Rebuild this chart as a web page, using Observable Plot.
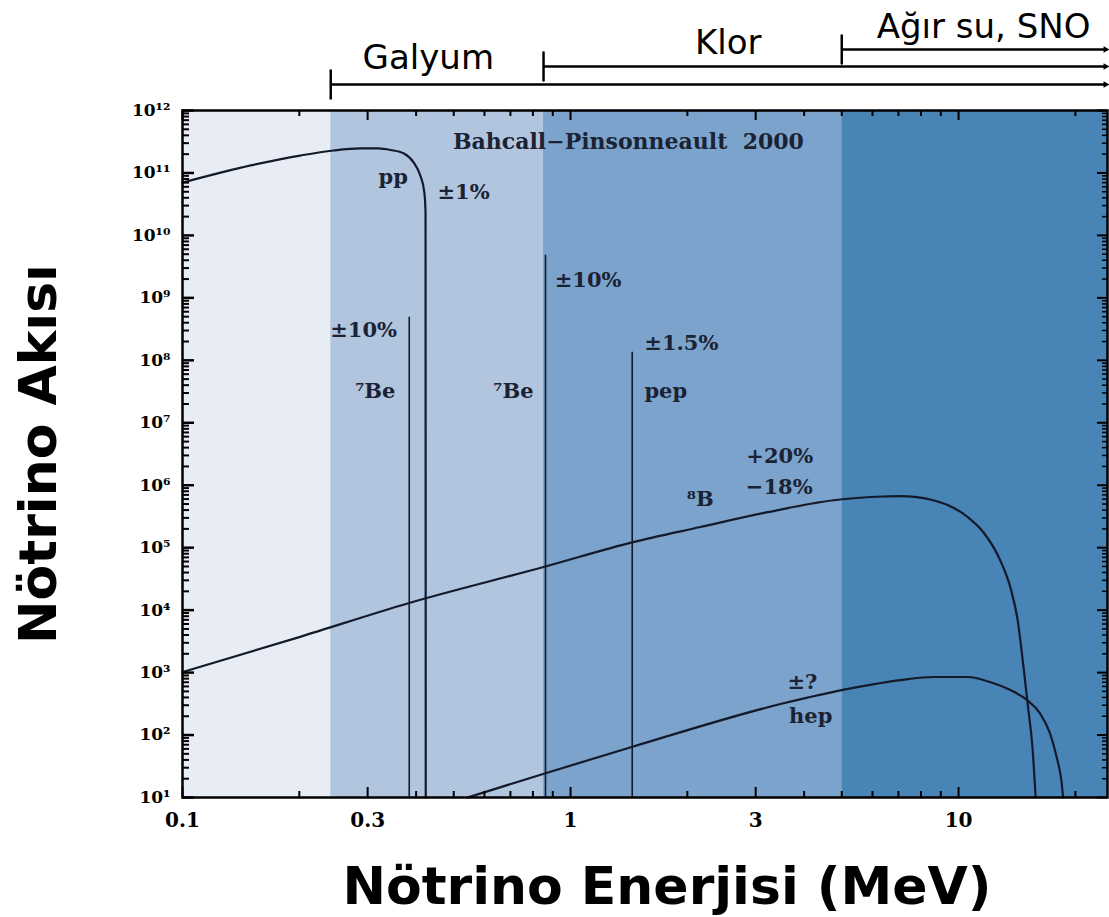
<!DOCTYPE html>
<html><head><meta charset="utf-8">
<script src="https://cdn.jsdelivr.net/npm/d3@7"></script>
<script src="https://cdn.jsdelivr.net/npm/@observablehq/plot@0.6"></script>
<style>body{margin:0;background:#fff}</style>
</head><body><div id="chart"></div>
<script>
// Detector sensitivity bands (MeV)
const bandStart = [0.1, 0.241, 0.852, 5.0];
const bandEnd = [0.241, 0.852, 5.0, 24.2];
const bandFill = ["#e8ecf4", "#b1c5de", "#7ba3cb", "#4884b6"];

const detectorNames = ["Galyum", "Klor", "Ağır su, SNO"];
const detectorThreshold = [0.241, 0.852, 5.0];
const detectorLabelEnergy = [0.43, 2.55, 11.6];
const energyMax = 24.2;

// Continuous spectra
const ppEnergy = [0.1, 0.15, 0.201, 0.245, 0.288, 0.32, 0.344, 0.372, 0.394, 0.41, 0.42, 0.423, 0.4235];
const ppFlux = [7.0e10, 1.32e11, 1.9e11, 2.29e11, 2.47e11, 2.47e11, 2.33e11, 2.05e11, 1.48e11, 9.1e10, 4.9e10, 2.3e10, 10];

const b8Energy = [0.1, 0.2, 0.382, 0.852, 1.45, 2.16, 3.22, 4.76, 6.41, 7.08, 8.61, 10.55, 11.6, 12.8, 13.6, 14.2, 14.7, 15.1, 15.5, 15.8];
const b8Flux = [1.02e3, 3.7e3, 1.29e4, 4.9e4, 1.23e5, 2.14e5, 3.7e5, 5.75e5, 6.6e5, 6.7e5, 5.75e5, 3.1e5, 1.75e5, 6.3e4, 2.3e4, 6.9e3, 1.23e3, 282, 65, 10];

const hepEnergy = [0.543, 0.862, 1.445, 3.54, 5.27, 7.08, 8.61, 10.55, 12.1, 13.6, 15.0, 16.2, 17.2, 17.9, 18.4, 18.6];
const hepFlux = [10, 24.5, 65, 323, 560, 760, 850, 850, 700, 525, 365, 224, 107, 44, 19, 10];

// Monochromatic lines
const lineNames = ["⁷Be", "⁷Be", "pep"];
const lineEnergy = [0.384, 0.862, 1.442];
const lineFlux = [4.9e8, 4.8e9, 1.35e8];

// Annotations
const annText = ["pp", "±1%", "Bahcall−Pinsonneault  2000", "±10%", "⁷Be", "⁷Be", "±10%", "±1.5%", "pep", "⁸B", "+20%", "−18%", "±?", "hep"];
const annEnergy = [0.349, 0.53, 1.41, 0.293, 0.314, 0.713, 1.11, 1.93, 1.76, 2.16, 3.46, 3.45, 3.96, 4.16];
const annFlux = [8.5e10, 4.9e10, 3.1e11, 3.0e8, 3.2e7, 3.2e7, 1.9e9, 1.86e8, 3.2e7, 6.0e5, 2.9e6, 9.3e5, 710, 200];

// Ticks
const xMajorTicks = [0.1, 0.3, 1, 3, 10];
const xMinorTicks = [0.2, 0.4, 0.5, 0.6, 0.7, 0.8, 0.9, 2, 4, 5, 6, 7, 8, 9, 20];
const yMajorTicks = [1e1, 1e2, 1e3, 1e4, 1e5, 1e6, 1e7, 1e8, 1e9, 1e10, 1e11, 1e12];
const yMinorTicks = yMajorTicks.slice(0, -1).flatMap(d => [2,3,4,5,6,7,8,9].map(k => k * d));

const sup = "⁰¹²³⁴⁵⁶⁷⁸⁹";
const fmtY = d => "10" + String(Math.round(Math.log10(d))).split("").map(c => sup[+c]).join("");

const W = 1109, H = 917, mL = 182, mR = 2, mT = 110, mB = 120;
const fw = W - mL - mR, fh = H - mT - mB;

const series = (E, F) => E.map((e, i) => ({E: e, F: F[i]}));
const ink = "#141a2a";
const idx = a => a.map((_, i) => i);

const detectorOffsets = [-26, -44, -61];
const detectorTextDy = [-42, -57, -73];

const marks = [
  Plot.rect(idx(bandStart), {x1: i => bandStart[i], x2: i => bandEnd[i], y1: 10, y2: 1e12, fill: i => bandFill[i]}),
  Plot.ruleX(idx(lineEnergy), {x: i => lineEnergy[i], y1: 10, y2: i => lineFlux[i], stroke: ink, strokeWidth: 1.6}),
  Plot.line(series(ppEnergy, ppFlux), {x: "E", y: "F", curve: "monotone-x", stroke: ink, strokeWidth: 2.2}),
  Plot.line(series(b8Energy, b8Flux), {x: "E", y: "F", curve: "monotone-x", stroke: ink, strokeWidth: 2.2}),
  Plot.line(series(hepEnergy, hepFlux), {x: "E", y: "F", curve: "monotone-x", stroke: ink, strokeWidth: 2.2}),
  Plot.text(idx(annText), {x: i => annEnergy[i], y: i => annFlux[i], text: i => annText[i], fontSize: i => i === 2 ? 22 : 21, fontWeight: "bold", fontFamily: "DejaVu Serif", fill: "#1a2233"}),
  // inward ticks on all four sides
  Plot.tickX(xMajorTicks, {x: d => d, insetTop: fh - 10, stroke: "#000", strokeWidth: 2}),
  Plot.tickX(xMinorTicks, {x: d => d, insetTop: fh - 6, stroke: "#000", strokeWidth: 2}),
  Plot.tickX(xMajorTicks, {x: d => d, insetBottom: fh - 10, stroke: "#000", strokeWidth: 2}),
  Plot.tickX(xMinorTicks, {x: d => d, insetBottom: fh - 6, stroke: "#000", strokeWidth: 2}),
  Plot.tickY(yMajorTicks, {y: d => d, insetRight: fw - 12, stroke: "#000", strokeWidth: 2.5}),
  Plot.tickY(yMinorTicks, {y: d => d, insetRight: fw - 7, stroke: "#000", strokeWidth: 2}),
  Plot.tickY(yMajorTicks, {y: d => d, insetLeft: fw - 10, stroke: "#000", strokeWidth: 2}),
  Plot.tickY(yMinorTicks, {y: d => d, insetLeft: fw - 5, stroke: "#000", strokeWidth: 1.5}),
  Plot.frame({stroke: "#000", strokeWidth: 2.5}),
  // tick labels
  Plot.axisX({anchor: "bottom", ticks: xMajorTicks, tickSize: 0, tickPadding: 15, tickFormat: d => String(d), label: null, fontSize: 20, fontWeight: "bold", fontFamily: "DejaVu Serif"}),
  Plot.axisY({anchor: "left", ticks: yMajorTicks, tickSize: 0, tickPadding: 12, tickFormat: fmtY, label: null, fontSize: 17, fontWeight: "bold", fontFamily: "DejaVu Serif"}),
  // axis titles
  Plot.text(["Nötrino Akısı"], {text: d => d, frameAnchor: "left", textAnchor: "middle", dx: -127, rotate: -90, lineAnchor: "bottom", fontSize: 52, fontWeight: "bold", fontFamily: "DejaVu Sans", fill: "#000"}),
  Plot.text(["Nötrino Enerjisi (MeV)"], {text: d => d, frameAnchor: "bottom", textAnchor: "middle", dx: 22, dy: 106, lineAnchor: "bottom", fontSize: 52, fontWeight: "bold", fontFamily: "DejaVu Sans", fill: "#000"})
];

// detector brackets above the frame
detectorNames.forEach((name, i) => {
  marks.push(Plot.ruleY([1e12], {x1: detectorThreshold[i], x2: energyMax, dy: detectorOffsets[i], stroke: "#000", strokeWidth: 2.5}));
  marks.push(Plot.vector([detectorThreshold[i]], {x: d => d, y: 1e12, dy: detectorOffsets[i], length: 28, rotate: 0, anchor: "middle", stroke: "#000", strokeWidth: 2.5,
    shape: {draw(c, l) { c.moveTo(0, 0); c.lineTo(0, -l); }}}));
  marks.push(Plot.dot([energyMax], {x: d => d, y: 1e12, dy: detectorOffsets[i], dx: -2, symbol: "triangle", rotate: 90, r: 2.5, fill: "#000", stroke: "none"}));
  marks.push(Plot.text([name], {text: d => d, x: detectorLabelEnergy[i], y: 1e12, dy: detectorTextDy[i], lineAnchor: "bottom", fontSize: 34, fontFamily: "DejaVu Sans", fill: "#000"}));
});

const chart = Plot.plot({
  width: W, height: H,
  marginLeft: mL, marginRight: mR, marginTop: mT, marginBottom: mB,
  x: {type: "log", domain: [0.1, energyMax]},
  y: {type: "log", domain: [10, 1e12]},
  style: {background: "#fff", overflow: "visible", fontFamily: "DejaVu Serif"},
  marks
});
document.getElementById("chart").appendChild(chart);
</script>
</body></html>
